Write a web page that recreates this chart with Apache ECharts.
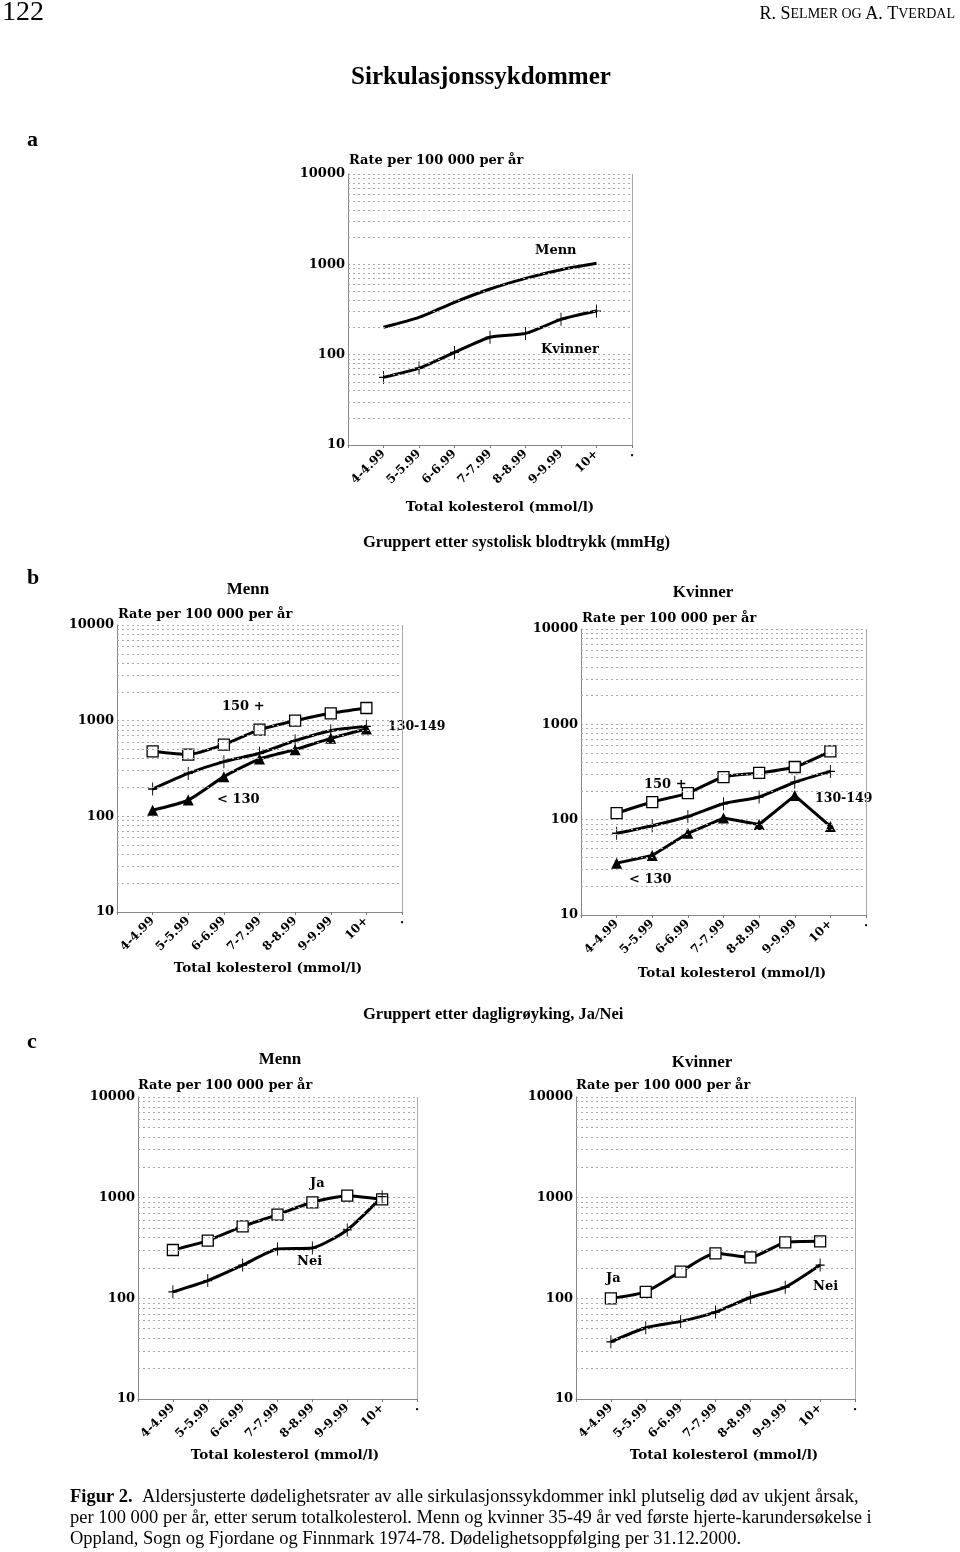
<!DOCTYPE html>
<html><head><meta charset="utf-8">
<script src="https://cdn.jsdelivr.net/npm/echarts@6/dist/echarts.min.js"></script>
<style>html,body{margin:0;padding:0;background:#fff}#c{width:960px;height:1552px}</style>
</head><body><div id="c"></div>
<script>
const categories = ['4-4.99','5-5.99','6-6.99','7-7.99','8-8.99','9-9.99','10+'];
const yTickValues = [10, 100, 1000, 10000];
const minorGridValues = [20,30,40,50,60,70,80,90,200,300,400,500,600,700,800,900,2000,3000,4000,5000,6000,7000,8000,9000];

// a: all
const aMenn    = [201, 259, 380, 533, 700, 873, 1026];
const aKvinner = [56, 71, 106, 156, 172, 246, 304];
// b: systolic blood pressure
const bMenn150     = [478, 442, 561, 805, 1000, 1194, 1356];
const bMenn130_149 = [193, 281, 373, 456, 618, 786, 873];
const bMennLt130   = [116, 148, 260, 397, 498, 653, 818];
const bKvinner150     = [117, 153, 190, 280, 309, 357, 521];
const bKvinner130_149 = [72, 86.5, 108, 147, 173, 247, 321];
const bKvinnerLt130   = [35, 42, 72, 104, 89, 179, 85];
// c: daily smoking
const cMennJa    = [302, 374, 519, 678, 899, 1047, 962];
const cMennNei   = [116, 150, 214, 309, 316, 478, 1023];
const cKvinnerJa  = [100, 116, 184, 280, 255, 359, 368];
const cKvinnerNei = [37, 51, 59, 73, 102, 129, 214];

const FF = '"Liberation Serif", "Times New Roman", serif';
const FW = '"DejaVu Serif", "Liberation Serif", serif';
const xData = [''].concat(categories, ['.']);

const grids = [
  {left:348, top:174, width:284, height:271},
  {left:117, top:625, width:285, height:287},
  {left:581, top:629, width:285, height:286},
  {left:138, top:1097, width:279, height:302},
  {left:576, top:1097, width:279, height:302}
];

const xAxes = grids.map((g,i)=>({
  gridIndex:i, type:'category', boundaryGap:false, data:xData,
  axisLine:{show:true, lineStyle:{color:'#888', width:1}},
  axisTick:{show:true, length:3, lineStyle:{color:'#777'}},
  axisLabel:{rotate:45, interval:0, color:'#000', fontFamily:FW, fontWeight:'bold', fontSize:12, margin:7},
  splitLine:{show:false}
}));
const yAxes = grids.map((g,i)=>({
  gridIndex:i, type:'log', logBase:10, min:yTickValues[0], max:yTickValues[yTickValues.length-1],
  axisLine:{show:true, lineStyle:{color:'#888', width:1}},
  axisTick:{show:false},
  axisLabel:{color:'#000', fontFamily:FW, fontWeight:'bold', fontSize:13, margin:3,
    formatter: v => yTickValues.includes(Math.round(v)) ? String(Math.round(v)) : ''},
  splitLine:{show:true, lineStyle:{type:[2,3], color:'#aaa', width:1}}
}));

const PLUS = 'path://M5,0L5,10M0,5L10,5';
const sym = {
  none:{symbol:'none'},
  square:{symbol:'rect', symbolSize:11, itemStyle:{color:'#fff', borderColor:'#000', borderWidth:1.3}},
  tri:{symbol:'triangle', symbolSize:11, itemStyle:{color:'#000', borderColor:'#000', borderWidth:0}},
  plus:{symbol:PLUS, symbolSize:[9,13], itemStyle:{color:'#000', borderColor:'#000', borderWidth:1.1}}
};

function gridLines(){
  return {
    silent:true, symbol:['none','none'], label:{show:false}, animation:false,
    lineStyle:{type:[2,3], color:'#aaa', width:1},
    data: minorGridValues.map(v=>({yAxis:v})).concat([{xAxis:'.', lineStyle:{type:'solid', color:'#aaa', width:1}}])
  };
}

function line(gi, name, vals, s, withGrid, smooth){
  const o = Object.assign({
    type:'line', name, xAxisIndex:gi, yAxisIndex:gi,
    data:[null].concat(vals), smooth: smooth===undefined ? 0.2 : smooth, showAllSymbol:true,
    lineStyle:{color:'#000', width:3}, animation:false, z:3
  }, sym[s]);
  if (withGrid) o.markLine = gridLines();
  return o;
}

const series = [
  line(0,'Menn',aMenn,'none',true),
  line(0,'Kvinner',aKvinner,'plus'),
  line(1,'150 +',bMenn150,'square',true),
  line(1,'130-149',bMenn130_149,'plus'),
  line(1,'< 130',bMennLt130,'tri'),
  line(2,'150 +',bKvinner150,'square',true),
  line(2,'130-149',bKvinner130_149,'plus'),
  line(2,'< 130',bKvinnerLt130,'tri',false,false),
  line(3,'Ja',cMennJa,'square',true),
  line(3,'Nei',cMennNei,'plus'),
  line(4,'Ja',cKvinnerJa,'square',true),
  line(4,'Nei',cKvinnerNei,'plus')
];

function txt(text, x, y, size, opts){
  opts = opts || {};
  const fam = opts.fam || FF;
  const st = {
    text, x, y, fill:'#000',
    font:(opts.bold===false?'':'bold ')+size+'px '+fam,
    textAlign:opts.align||'left', align:opts.align||'left',
    textVerticalAlign:'middle', verticalAlign:'middle'
  };
  if (opts.rich) st.rich = opts.rich;
  return {type:'text', silent:true, style:st};
}
const W = (text,x,y,size,align)=>txt(text,x,y,size,{fam:FW, align});

const graphics = [
  txt('122', 2, 13, 28, {bold:false}),
  txt('{a|R. S}{b|ELMER OG }{a|A. T}{b|VERDAL}', 955, 14, 18, {bold:false, align:'right',
    rich:{a:{fontFamily:FF, fontSize:18, fontWeight:'normal'}, b:{fontFamily:FF, fontSize:14, fontWeight:'normal'}}}),
  txt('Sirkulasjonssykdommer', 481, 78, 25, {align:'center'}),
  txt('a', 27, 140, 22),
  txt('b', 27, 578, 22),
  txt('c', 27, 1042, 22),
  txt('Gruppert etter systolisk blodtrykk (mmHg)', 363, 543, 16.5),
  txt('Gruppert etter dagligrøyking, Ja/Nei', 363, 1015, 16.5),
  // chart a
  W('Rate per 100 000 per år', 349, 161, 13),
  W('Menn', 535, 251, 13),
  W('Kvinner', 541, 350, 13),
  W('Total kolesterol (mmol/l)', 500, 507, 13.5, 'center'),
  // chart b Menn
  txt('Menn', 248, 590, 17, {align:'center'}),
  W('Rate per 100 000 per år', 118, 615, 13),
  W('150 +', 222, 707, 13),
  W('130-149', 388, 727, 12.5),
  W('< 130', 217, 800, 13),
  W('Total kolesterol (mmol/l)', 268, 968, 13.5, 'center'),
  // chart b Kvinner
  txt('Kvinner', 703, 593, 17, {align:'center'}),
  W('Rate per 100 000 per år', 582, 619, 13),
  W('150 +', 644, 785, 13),
  W('130-149', 815, 799, 12.5),
  W('< 130', 629, 880, 13),
  W('Total kolesterol (mmol/l)', 732, 973, 13.5, 'center'),
  // chart c Menn
  txt('Menn', 280, 1060, 17, {align:'center'}),
  W('Rate per 100 000 per år', 138, 1086, 13),
  W('Ja', 310, 1184, 13),
  W('Nei', 297, 1262, 13),
  W('Total kolesterol (mmol/l)', 285, 1455, 13.5, 'center'),
  // chart c Kvinner
  txt('Kvinner', 702, 1063, 17, {align:'center'}),
  W('Rate per 100 000 per år', 576, 1086, 13),
  W('Ja', 606, 1279, 13),
  W('Nei', 813, 1287, 13),
  W('Total kolesterol (mmol/l)', 724, 1455, 13.5, 'center'),
  // caption
  txt('{b|Figur 2.}  Aldersjusterte dødelighetsrater av alle sirkulasjonssykdommer inkl plutselig død av ukjent årsak,', 70, 1497, 18.5, {bold:false,
    rich:{b:{fontFamily:FF, fontSize:18.5, fontWeight:'bold'}}}),
  txt('per 100 000 per år, etter serum totalkolesterol. Menn og kvinner 35-49 år ved første hjerte-karundersøkelse i', 70, 1518, 18.5, {bold:false}),
  txt('Oppland, Sogn og Fjordane og Finnmark 1974-78. Dødelighetsoppfølging per 31.12.2000.', 70, 1539, 18.5, {bold:false})
];

const chart = echarts.init(document.getElementById('c'), null, {renderer:'canvas'});
chart.setOption({
  backgroundColor:'#fff',
  animation:false,
  grid: grids.map(g=>Object.assign({containLabel:false}, g)),
  xAxis: xAxes,
  yAxis: yAxes,
  series,
  graphic: graphics
});
</script>
</body></html>
